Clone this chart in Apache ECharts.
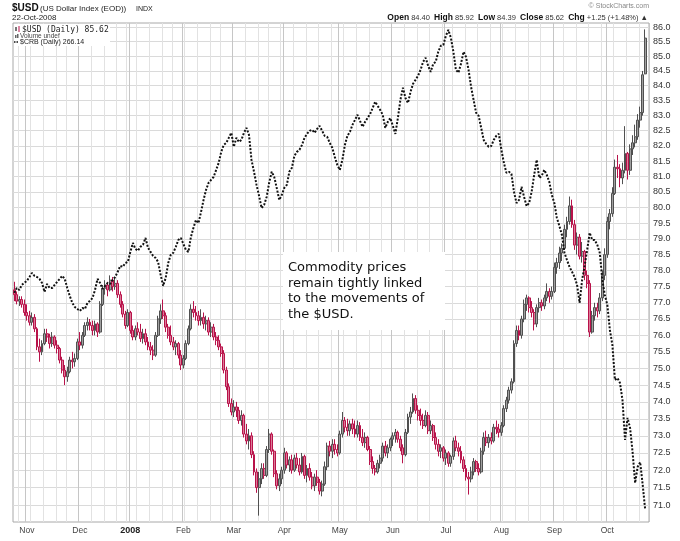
<!DOCTYPE html>
<html>
<head>
<meta charset="utf-8">
<title>$USD vs $CRB</title>
<script src="https://cdn.jsdelivr.net/npm/echarts@6/dist/echarts.min.js"></script>
<style>
  html, body { margin: 0; padding: 0; background: #fff; }
  #chart { width: 680px; height: 541px; }
</style>
</head>
<body>
<div id="chart"></div>
<script>
// trading calendar: weekdays minus the NYSE holidays in the window
const firstDay = '2007-10-25'
const lastDay = '2008-10-22'
const holidays = ['2007-11-22', '2007-12-25', '2008-01-01', '2008-01-21', '2008-02-18',
  '2008-03-21', '2008-05-26', '2008-07-04', '2008-09-01']
const monthNames = ['Jan', 'Feb', 'Mar', 'Apr', 'May', 'Jun', 'Jul', 'Aug', 'Sep', 'Oct', 'Nov', 'Dec']

// right hand price scale (log scale on StockCharts)
const yTicks = [71.0, 71.5, 72.0, 72.5, 73.0, 73.5, 74.0, 74.5, 75.0, 75.5, 76.0, 76.5,
  77.0, 77.5, 78.0, 78.5, 79.0, 79.5, 80.0, 80.5, 81.0, 81.5, 82.0, 82.5, 83.0, 83.5,
  84.0, 84.5, 85.0, 85.5, 86.0]
const usdAxisMin = 70.52
const usdAxisMax = 86.14
// the $CRB overlay has its own hidden scale
const crbAxisMin = 262.35
const crbAxisMax = 476.3

// $USD daily candles
const usdOpen = [
  77.40, 77.25, 77.05, 77.10, 76.95, 76.70, 76.60, 76.40, 76.55, 76.20,
  75.65, 75.50, 75.75, 76.05, 75.95, 75.75, 75.95, 75.70, 75.60, 75.25,
  74.95, 74.75, 74.90, 75.25, 75.20, 75.30, 75.80, 75.70, 76.00, 76.30,
  76.40, 76.30, 76.15, 76.35, 76.10, 76.95, 77.45, 77.55, 77.40, 77.70,
  77.50, 77.60, 77.25, 76.95, 76.65, 76.30, 76.70, 76.15, 75.95, 76.20,
  76.10, 75.90, 76.05, 75.80, 75.65, 75.55, 75.40, 76.00, 76.50, 76.75,
  76.60, 76.25, 76.00, 75.80, 75.65, 75.75, 75.40, 75.10, 75.30, 75.75,
  76.20, 76.80, 76.70, 76.60, 76.45, 76.55, 76.35, 76.45, 76.10, 76.25,
  75.95, 75.85, 75.65, 75.45, 74.95, 74.45, 73.95, 73.70, 73.85, 73.75,
  73.45, 73.60, 73.05, 72.85, 73.00, 72.45, 71.95, 71.50, 71.75, 72.05,
  71.85, 72.60, 73.05, 72.55, 71.90, 71.55, 71.75, 72.00, 72.50, 72.15,
  72.30, 72.00, 72.35, 72.15, 71.95, 72.40, 71.85, 72.05, 71.80, 71.55,
  71.80, 71.65, 71.40, 71.60, 72.10, 72.70, 72.55, 72.75, 72.60, 72.50,
  73.05, 73.45, 73.25, 73.15, 73.35, 73.20, 73.05, 73.30, 72.95, 72.80,
  72.95, 72.60, 72.25, 72.05, 71.95, 72.20, 72.35, 72.70, 72.50, 72.65,
  72.90, 73.00, 73.10, 72.90, 72.65, 72.45, 73.10, 73.55, 73.70, 74.10,
  73.75, 73.60, 73.45, 73.30, 73.60, 73.15, 73.30, 72.95, 72.75, 72.55,
  72.65, 72.35, 72.50, 72.20, 72.40, 72.85, 72.65, 72.55, 72.30, 72.05,
  71.80, 71.75, 71.95, 72.25, 72.05, 71.95, 72.55, 72.95, 72.80, 72.95,
  72.85, 73.25, 73.20, 73.10, 73.30, 73.80, 74.05, 74.35, 74.60, 75.75,
  76.15, 76.00, 76.50, 76.95, 77.15, 76.85, 76.70, 76.35, 76.85, 77.00,
  76.90, 77.15, 77.35, 77.20, 77.35, 78.10, 78.25, 78.55, 78.70, 79.30,
  79.55, 80.05, 79.45, 78.80, 79.05, 78.45, 78.60, 77.85, 77.60, 76.10,
  76.60, 76.85, 76.75, 77.15, 77.85, 78.50, 79.55, 79.80, 80.45, 81.30,
  81.25, 80.95, 81.20, 81.75, 81.20, 81.90, 82.10, 82.30, 82.85, 83.10,
  84.40
]
const usdHigh = [
  77.65, 77.35, 77.20, 77.20, 77.10, 76.95, 76.75, 76.70, 76.65, 76.25,
  75.90, 75.85, 76.20, 76.20, 76.05, 76.10, 76.00, 75.85, 75.65, 75.35,
  75.10, 75.05, 75.35, 75.50, 75.45, 75.90, 76.10, 76.10, 76.40, 76.55,
  76.50, 76.45, 76.45, 76.40, 77.05, 77.55, 77.70, 77.65, 77.85, 77.80,
  77.75, 77.70, 77.35, 77.05, 76.75, 76.80, 76.75, 76.30, 76.30, 76.40,
  76.35, 76.20, 76.20, 75.95, 75.80, 75.70, 76.10, 76.60, 76.95, 77.10,
  76.70, 76.35, 76.30, 75.95, 75.85, 75.80, 75.55, 75.40, 75.85, 76.30,
  76.95, 77.05, 76.90, 76.75, 76.80, 76.70, 76.60, 76.55, 76.40, 76.35,
  76.10, 76.00, 75.75, 75.55, 75.05, 74.55, 74.10, 74.05, 74.00, 73.85,
  73.75, 73.65, 73.35, 73.20, 73.10, 72.55, 72.05, 71.95, 72.20, 72.20,
  72.70, 73.20, 73.10, 72.60, 72.00, 71.90, 72.10, 72.65, 72.55, 72.40,
  72.45, 72.45, 72.50, 72.35, 72.50, 72.45, 72.15, 72.20, 71.95, 71.90,
  72.00, 71.75, 71.70, 72.25, 72.80, 72.85, 72.90, 72.90, 72.75, 73.15,
  73.70, 73.55, 73.50, 73.45, 73.50, 73.45, 73.45, 73.40, 73.20, 73.10,
  73.00, 72.70, 72.40, 72.15, 72.30, 72.45, 72.80, 72.85, 72.75, 72.95,
  73.10, 73.20, 73.15, 73.00, 72.75, 73.20, 73.65, 73.85, 74.25, 74.20,
  73.90, 73.80, 73.65, 73.75, 73.70, 73.45, 73.35, 73.10, 72.90, 72.75,
  72.70, 72.60, 72.55, 72.45, 72.95, 73.00, 72.80, 72.70, 72.40, 72.15,
  71.95, 72.10, 72.35, 72.30, 72.20, 72.65, 73.10, 73.15, 73.05, 73.10,
  73.35, 73.45, 73.35, 73.40, 73.90, 74.15, 74.45, 74.70, 75.85, 76.30,
  76.30, 76.60, 77.10, 77.25, 77.20, 77.05, 76.80, 76.95, 77.15, 77.10,
  77.25, 77.60, 77.45, 77.50, 78.25, 78.40, 78.75, 78.85, 79.45, 79.70,
  80.35, 80.25, 79.60, 79.20, 79.15, 78.90, 78.65, 78.00, 77.70, 76.75,
  77.00, 77.00, 77.30, 78.00, 78.70, 79.70, 79.95, 80.65, 81.55, 81.70,
  81.40, 81.45, 82.65, 81.80, 82.05, 82.35, 82.70, 83.05, 83.30, 84.50,
  85.92
]
const usdLow = [
  77.05, 76.95, 76.90, 76.85, 76.60, 76.45, 76.30, 76.30, 76.10, 75.55,
  75.20, 75.40, 75.70, 75.80, 75.60, 75.65, 75.60, 75.45, 75.15, 74.85,
  74.50, 74.60, 74.85, 75.00, 75.05, 75.25, 75.55, 75.60, 75.95, 76.15,
  76.15, 76.00, 76.00, 75.95, 76.05, 76.90, 77.25, 77.20, 77.35, 77.35,
  77.40, 77.15, 76.85, 76.55, 76.20, 76.25, 76.05, 75.85, 75.85, 76.00,
  75.80, 75.75, 75.70, 75.55, 75.40, 75.25, 75.35, 75.95, 76.35, 76.50,
  76.10, 75.90, 75.70, 75.55, 75.40, 75.30, 74.95, 75.00, 75.25, 75.70,
  76.15, 76.55, 76.45, 76.30, 76.30, 76.20, 76.15, 76.00, 75.95, 75.85,
  75.70, 75.55, 75.35, 74.85, 74.35, 73.85, 73.60, 73.55, 73.55, 73.35,
  73.30, 72.95, 72.75, 72.60, 72.35, 71.85, 71.35, 70.70, 71.60, 71.75,
  71.80, 72.50, 72.45, 71.80, 71.45, 71.40, 71.60, 71.90, 72.05, 71.95,
  71.90, 71.95, 72.05, 71.85, 71.90, 71.75, 71.65, 71.70, 71.45, 71.40,
  71.55, 71.30, 71.25, 71.55, 72.00, 72.40, 72.35, 72.45, 72.40, 72.45,
  72.95, 73.10, 73.00, 73.00, 73.05, 72.95, 72.95, 72.85, 72.70, 72.65,
  72.55, 72.15, 71.90, 71.85, 71.90, 72.05, 72.25, 72.40, 72.35, 72.55,
  72.70, 72.80, 72.80, 72.55, 72.20, 72.40, 73.05, 73.35, 73.65, 73.65,
  73.45, 73.30, 73.20, 73.25, 73.05, 73.05, 72.85, 72.60, 72.40, 72.35,
  72.25, 72.15, 72.10, 72.10, 72.30, 72.55, 72.40, 72.20, 71.95, 71.70,
  71.30, 71.65, 71.85, 71.95, 71.85, 71.90, 72.45, 72.70, 72.65, 72.75,
  72.80, 73.05, 72.95, 73.00, 73.25, 73.70, 73.95, 74.25, 74.55, 75.65,
  75.85, 75.90, 76.40, 76.75, 76.70, 76.55, 76.15, 76.25, 76.70, 76.75,
  76.80, 77.05, 77.00, 77.10, 77.30, 77.90, 78.05, 78.30, 78.65, 79.05,
  79.45, 79.35, 78.65, 78.50, 78.35, 78.25, 77.70, 77.45, 75.95, 76.05,
  76.45, 76.55, 76.65, 77.05, 77.70, 78.40, 79.30, 79.70, 80.40, 80.95,
  80.65, 80.75, 81.10, 80.90, 81.05, 81.70, 81.95, 82.20, 82.60, 83.00,
  84.39
]
const usdClose = [
  77.25, 77.05, 77.10, 76.95, 76.70, 76.60, 76.40, 76.55, 76.20, 75.65,
  75.50, 75.75, 76.05, 75.95, 75.75, 75.95, 75.70, 75.60, 75.25, 74.95,
  74.75, 74.90, 75.25, 75.20, 75.30, 75.80, 75.70, 76.00, 76.30, 76.40,
  76.30, 76.15, 76.35, 76.10, 76.95, 77.45, 77.55, 77.40, 77.70, 77.50,
  77.60, 77.25, 76.95, 76.65, 76.30, 76.70, 76.15, 75.95, 76.20, 76.10,
  75.90, 76.05, 75.80, 75.65, 75.55, 75.40, 76.00, 76.50, 76.75, 76.60,
  76.25, 76.00, 75.80, 75.65, 75.75, 75.40, 75.10, 75.30, 75.75, 76.20,
  76.80, 76.70, 76.60, 76.45, 76.55, 76.35, 76.45, 76.10, 76.25, 75.95,
  75.85, 75.65, 75.45, 74.95, 74.45, 73.95, 73.70, 73.85, 73.75, 73.45,
  73.60, 73.05, 72.85, 73.00, 72.45, 71.95, 71.50, 71.75, 72.05, 71.85,
  72.60, 73.05, 72.55, 71.90, 71.55, 71.75, 72.00, 72.50, 72.15, 72.30,
  72.00, 72.35, 72.15, 71.95, 72.40, 71.85, 72.05, 71.80, 71.55, 71.80,
  71.65, 71.40, 71.60, 72.10, 72.70, 72.55, 72.75, 72.60, 72.50, 73.05,
  73.45, 73.25, 73.15, 73.35, 73.20, 73.05, 73.30, 72.95, 72.80, 72.95,
  72.60, 72.25, 72.05, 71.95, 72.20, 72.35, 72.70, 72.50, 72.65, 72.90,
  73.00, 73.10, 72.90, 72.65, 72.45, 73.10, 73.55, 73.70, 74.10, 73.75,
  73.60, 73.45, 73.30, 73.60, 73.15, 73.30, 72.95, 72.75, 72.55, 72.65,
  72.35, 72.50, 72.20, 72.40, 72.85, 72.65, 72.55, 72.30, 72.05, 71.80,
  71.75, 71.95, 72.25, 72.05, 71.95, 72.55, 72.95, 72.80, 72.95, 72.85,
  73.25, 73.20, 73.10, 73.30, 73.80, 74.05, 74.35, 74.60, 75.75, 76.15,
  76.00, 76.50, 76.95, 77.15, 76.85, 76.70, 76.35, 76.85, 77.00, 76.90,
  77.15, 77.35, 77.20, 77.35, 78.10, 78.25, 78.55, 78.70, 79.30, 79.55,
  80.05, 79.45, 78.80, 79.05, 78.45, 78.60, 77.85, 77.60, 76.10, 76.60,
  76.85, 76.75, 77.15, 77.85, 78.50, 79.55, 79.80, 80.45, 81.30, 81.25,
  80.95, 81.20, 81.75, 81.20, 81.90, 82.10, 82.30, 82.85, 83.10, 84.37,
  85.62
]
// $CRB daily close (overlay)
const crbClose = [
  345.0, 347.0, 346.2, 348.3, 349.1, 350.0, 351.6, 353.3, 352.1, 351.6,
  350.8, 349.1, 345.4, 348.7, 347.0, 347.0, 348.3, 349.6, 350.8, 352.1,
  350.8, 347.0, 343.7, 340.9, 339.2, 338.4, 337.6, 338.8, 338.4, 340.9,
  341.7, 342.9, 346.2, 350.8, 349.1, 346.6, 347.9, 349.1, 348.7, 350.4,
  351.6, 353.8, 356.3, 355.9, 357.5, 358.0, 362.3, 366.2, 363.6, 362.8,
  364.5, 365.4, 368.4, 364.1, 362.3, 360.6, 359.7, 358.0, 352.5, 347.9,
  351.2, 357.5, 361.0, 361.9, 364.5, 367.5, 368.4, 365.8, 363.2, 362.3,
  368.9, 372.9, 376.4, 375.0, 380.0, 385.5, 390.2, 393.5, 394.9, 396.3,
  399.6, 403.0, 408.3, 411.7, 412.7, 415.2, 417.7, 410.8, 415.2, 413.2,
  414.2, 417.7, 420.2, 416.7, 404.4, 398.7, 392.5, 387.4, 381.8, 383.2,
  386.9, 393.5, 398.7, 396.3, 391.1, 385.5, 387.8, 391.1, 392.5, 398.7,
  400.6, 406.4, 408.3, 409.3, 411.7, 415.2, 417.2, 418.7, 419.2, 417.7,
  419.7, 421.2, 418.7, 416.2, 415.7, 412.7, 410.3, 405.9, 402.0, 399.6,
  404.4, 411.7, 416.2, 418.2, 421.7, 424.2, 426.8, 423.7, 420.7, 423.2,
  425.2, 427.2, 430.3, 433.5, 431.4, 429.3, 426.8, 420.2, 423.2, 425.2,
  421.2, 417.2, 425.2, 434.5, 440.8, 435.5, 432.9, 438.6, 442.9, 445.0,
  447.2, 450.4, 454.7, 456.9, 452.5, 449.3, 453.6, 454.7, 460.2, 463.5,
  464.0, 469.0, 472.4, 467.9, 460.2, 450.4, 448.8, 453.6, 460.2, 457.4,
  450.4, 441.3, 434.5, 427.8, 426.3, 420.2, 414.2, 412.2, 410.8, 411.2,
  414.2, 416.2, 417.2, 409.3, 403.0, 398.2, 398.7, 397.7, 389.3, 384.1,
  385.5, 391.6, 386.9, 382.7, 384.1, 389.3, 397.2, 404.4, 395.8, 396.8,
  399.6, 397.2, 393.9, 387.8, 384.1, 377.3, 373.7, 369.7, 361.9, 358.8,
  355.9, 353.8, 351.6, 348.3, 340.9, 350.4, 356.3, 363.2, 370.7, 367.5,
  367.5, 365.4, 361.9, 350.4, 344.1, 340.0, 330.0, 324.1, 310.9, 311.6,
  309.8, 303.5, 289.4, 297.1, 293.6, 285.2, 274.9, 280.2, 281.8, 274.3,
  266.14
]

const RED = '#b8124a'
const DARK = '#505050'
const FONT = '"Liberation Sans", Arial, sans-serif'
const TOP = 100 // z for the overlay texts and boxes

function tradingDays(from, to) {
  const out = []
  const d = new Date(from + 'T00:00:00Z')
  const end = new Date(to + 'T00:00:00Z')
  while (d <= end) {
    const wd = d.getUTCDay()
    const s = d.toISOString().slice(0, 10)
    if (wd !== 0 && wd !== 6 && holidays.indexOf(s) < 0) {
      out.push(s)
    }
    d.setUTCDate(d.getUTCDate() + 1)
  }
  return out
}

const dates = tradingDays(firstDay, lastDay)
console.assert(dates.length === usdClose.length, 'calendar / data length mismatch')
// one empty slot after the last bar keeps the small gap before the price scale
const categories = dates.concat([''])

const weekday = (s) => new Date(s + 'T00:00:00Z').getUTCDay()
const isMonthStart = (i) => i > 0 && i < dates.length && dates[i].slice(5, 7) !== dates[i - 1].slice(5, 7)
const isWeekStart = (i) => i > 0 && i < dates.length && weekday(dates[i]) <= weekday(dates[i - 1])

// StockCharts colouring: red when the close is below the previous close,
// hollow body when close > open
const candles = usdOpen.map((o, i) => {
  const prev = i > 0 ? usdClose[i - 1] : o
  const c = usdClose[i] < prev ? RED : DARK
  return {
    value: [Math.log(o), Math.log(usdClose[i]), Math.log(usdLow[i]), Math.log(usdHigh[i])],
    itemStyle: {
      color: c === RED ? '#dc7b98' : '#a0a0a0',
      color0: c,
      borderColor: c,
      borderColor0: c
    }
  }
})

function txt(x, y, text, font, fill, extra) {
  return Object.assign({
    type: 'text', z: TOP, silent: true, x: x, y: y,
    style: Object.assign({ text: text, font: font, fill: fill }, extra || {})
  })
}
function box(x, y, w, h, fill) {
  return { type: 'rect', z: TOP - 1, silent: true, shape: { x: x, y: y, width: w, height: h }, style: { fill: fill } }
}

const chart = echarts.init(document.getElementById('chart'))

const option = {
  animation: false,
  backgroundColor: '#fff',
  textStyle: { fontFamily: FONT },
  grid: {
    left: 13,
    right: 31,
    top: 23,
    bottom: 19,
    show: true,
    borderColor: '#a8a8a8',
    borderWidth: 1
  },
  xAxis: [{
    type: 'category',
    data: categories,
    boundaryGap: true,
    axisLine: { show: false },
    axisTick: { show: false },
    axisLabel: {
      interval: (i) => isMonthStart(i),
      formatter: (v) => {
        const m = +v.slice(5, 7)
        return m === 1 ? '{y|' + v.slice(0, 4) + '}' : monthNames[m - 1]
      },
      margin: 4,
      fontSize: 8.5,
      color: '#444',
      rich: { y: { fontWeight: 'bold', fontSize: 9, color: '#222' } }
    },
    splitLine: {
      show: true,
      interval: (i) => isWeekStart(i),
      lineStyle: { color: '#e2e2e2', width: 1 }
    }
  }, {
    // month dividers, a shade darker than the weekly lines
    type: 'category',
    data: categories,
    boundaryGap: true,
    position: 'bottom',
    axisLine: { show: false },
    axisTick: { show: false },
    axisLabel: { show: false },
    splitLine: {
      show: true,
      interval: (i) => isMonthStart(i),
      lineStyle: { color: '#c6c6c6', width: 1 }
    }
  }],
  yAxis: [{
    type: 'value',
    position: 'right',
    min: Math.log(usdAxisMin),
    max: Math.log(usdAxisMax),
    axisLine: { show: false },
    axisTick: { show: false, customValues: yTicks.map(Math.log) },
    axisLabel: {
      customValues: yTicks.map(Math.log),
      formatter: (v) => {
        const t = yTicks.find((t) => Math.abs(Math.log(t) - v) < 1e-6)
        return t === undefined ? '' : t.toFixed(1)
      },
      margin: 4,
      fontSize: 9,
      color: '#333'
    },
    splitLine: { show: true, lineStyle: { color: '#dadada', width: 1 } }
  }, {
    type: 'value',
    show: false,
    min: Math.log(crbAxisMin),
    max: Math.log(crbAxisMax),
    splitLine: { show: false }
  }],
  series: [{
    name: '$USD',
    type: 'candlestick',
    xAxisIndex: 0,
    yAxisIndex: 0,
    barWidth: 2.4,
    itemStyle: { borderWidth: 1 },
    data: candles
  }, {
    name: '$CRB',
    type: 'line',
    xAxisIndex: 0,
    yAxisIndex: 1,
    symbol: 'none',
    lineStyle: { color: '#111', width: 2, type: [2, 1.6] },
    data: crbClose.map((v) => Math.log(v))
  }],
  graphic: {
    elements: [
      // title block
      txt(12, 3, '$USD', 'bold 10px ' + FONT, '#111'),
      txt(40, 5, '(US Dollar Index (EOD))', '8px ' + FONT, '#222'),
      txt(136, 6, 'INDX', '7px ' + FONT, '#222'),
      txt(12, 14, '22-Oct-2008', '8px ' + FONT, '#222'),
      txt(649, 3, '\u00a9 StockCharts.com', '7px ' + FONT, '#888', { align: 'right' }),
      txt(648, 13,
        '{b|Open} 84.40  {b|High} 85.92  {b|Low} 84.39  {b|Close} 85.62  {b|Chg} +1.25 (+1.48%) \u25b2',
        '7.5px ' + FONT, '#333',
        { align: 'right', rich: { b: { fontWeight: 'bold', fontSize: 8.5, fontFamily: FONT, fill: '#111' } } }),
      // in-chart legend
      box(14, 24, 96, 22, '#fff'),
      { type: 'rect', z: TOP, silent: true, shape: { x: 15, y: 27, width: 2, height: 4 }, style: { fill: '#777' } },
      { type: 'line', z: TOP, silent: true, shape: { x1: 19, y1: 26, x2: 19, y2: 32 }, style: { stroke: RED, lineWidth: 1 } },
      txt(22, 26, '$USD (Daily) 85.62', '8px "DejaVu Sans Mono", monospace', '#222'),
      { type: 'rect', z: TOP, silent: true, shape: { x: 15, y: 35, width: 1.5, height: 3 }, style: { fill: '#666' } },
      { type: 'rect', z: TOP, silent: true, shape: { x: 17, y: 34, width: 1.5, height: 4 }, style: { fill: '#666' } },
      txt(20, 33, 'Volume undef', '6.5px ' + FONT, '#444'),
      { type: 'line', z: TOP, silent: true, shape: { x1: 14, y1: 42, x2: 19, y2: 42 }, style: { stroke: '#111', lineWidth: 1.5, lineDash: [1.5, 1] } },
      txt(20, 39, '$CRB (Daily) 266.14', '7px ' + FONT, '#222'),
      // annotation
      box(283, 252, 162, 78, '#fff'),
      txt(288, 260, 'Commodity prices\nremain tightly linked\nto the movements of\nthe $USD.',
        '13px "DejaVu Sans", sans-serif', '#111', { lineHeight: 15.5 })
    ]
  }
}

chart.setOption(option)
</script>
</body>
</html>
